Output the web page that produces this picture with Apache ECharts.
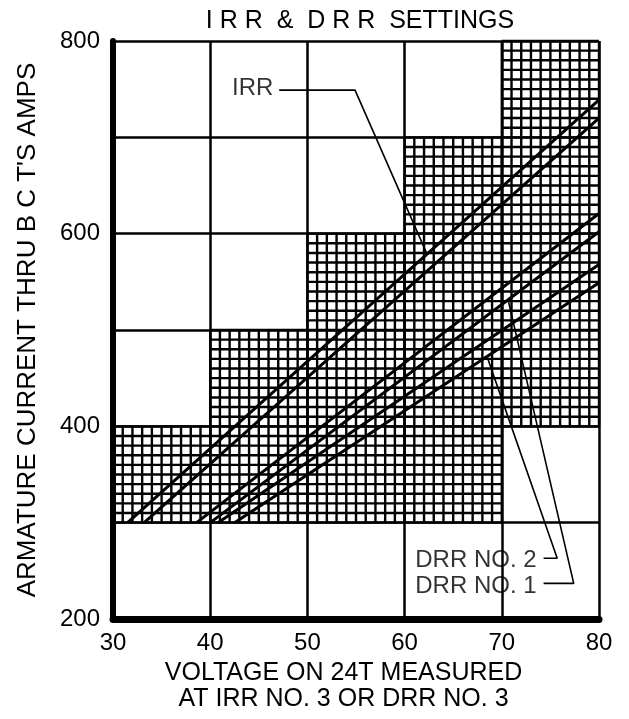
<!DOCTYPE html>
<html>
<head>
<meta charset="utf-8">
<script src="https://cdn.jsdelivr.net/npm/echarts@6/dist/echarts.min.js"></script>
<style>
html,body{margin:0;padding:0;background:#fff;}
#chart{width:629px;height:719px;}
</style>
</head>
<body>
<div id="chart"></div>
<script>
// ---- data ----
const xTicks = [30, 40, 50, 60, 70, 80];
const yTickLabels = [200, 400, 600, 800];

// shaded fine-grid regions: [xFrom, xTo, yFrom, yTo]
const shadedRegions = [
  [30, 40, 300, 400],
  [40, 50, 300, 500],
  [50, 60, 300, 600],
  [60, 70, 300, 700],
  [70, 80, 400, 800]
];

// setting lines (voltage, amps)
const irrUpper  = [[31.5, 300], [80, 739]];
const irrLower  = [[33.2, 300], [80, 720]];
const drr2Upper = [[38.6, 300], [80, 621]];
const drr2Lower = [[40.0, 300], [80, 602]];
const drr1Upper = [[40.8, 300], [80, 568]];
const drr1Lower = [[42.5, 300], [80, 549]];

// leader lines
const irrLeader  = [[47.1, 749], [54.9, 749], [62.3, 579]];
const drr2Leader = [[74.3, 263], [75.7, 263], [68.6, 469]];
const drr1Leader = [[74.3, 237], [77.4, 237], [70.7, 529]];

// annotation labels
const leftLabels  = [[46.5, 751, 'IRR']];
const rightLabels = [[61.1, 261, 'DRR NO. 2'], [61.1, 233.5, 'DRR NO. 1']];

const FINE_X = 1;   // volts per fine division
const FINE_Y = 10;  // amps per fine division

const FONT = "'Liberation Sans', Arial, Helvetica, sans-serif";

const chart = echarts.init(document.getElementById('chart'), null, {renderer: 'canvas'});

function mainLine(data) {
  return {
    type: 'line', data: data, showSymbol: false, symbol: 'none', z: 5,
    lineStyle: {color: '#000', width: 3}, animation: false, silent: true
  };
}
function leader(data) {
  return {
    type: 'line', data: data, showSymbol: false, symbol: 'none', z: 6,
    lineStyle: {color: '#000', width: 1.6}, animation: false, silent: true
  };
}

const option = {
  backgroundColor: '#fff',
  animation: false,
  title: {
    text: 'I R R  &  D R R  SETTINGS',
    left: 355, top: 4, textAlign: 'center',
    textStyle: {fontFamily: FONT, fontSize: 25, fontWeight: 'normal', color: '#000'}
  },
  grid: {left: 113, right: 30, top: 41, bottom: 100, containLabel: false},
  xAxis: {
    type: 'value', min: xTicks[0], max: xTicks[xTicks.length - 1], interval: 10,
    name: 'VOLTAGE ON 24T MEASURED\nAT IRR NO. 3 OR DRR NO. 3',
    nameLocation: 'middle', nameGap: 37,
    nameTextStyle: {fontFamily: FONT, fontSize: 25, color: '#000', lineHeight: 26, padding: [0, 25, 0, 0]},
    axisLine: {show: true, lineStyle: {color: '#000', width: 7}},
    axisTick: {show: false},
    axisLabel: {fontFamily: FONT, fontSize: 24, color: '#000', margin: 12},
    splitLine: {show: true, lineStyle: {color: '#000', width: 2.5}}
  },
  yAxis: {
    type: 'value', min: 200, max: 800, interval: 100,
    name: "ARMATURE CURRENT THRU B C T'S AMPS",
    nameLocation: 'middle', nameGap: 72, nameRotate: 90,
    nameTextStyle: {fontFamily: FONT, fontSize: 26, color: '#000'},
    axisLine: {show: true, lineStyle: {color: '#000', width: 6}},
    axisTick: {show: false},
    axisLabel: {
      fontFamily: FONT, fontSize: 24, color: '#000', margin: 13,
      formatter: function (v) { return yTickLabels.indexOf(v) >= 0 ? String(v) : ''; }
    },
    splitLine: {show: true, lineStyle: {color: '#000', width: 2.5}}
  },
  series: [
    {
      type: 'custom', z: 1, silent: true, animation: false,
      data: shadedRegions,
      encode: {x: [0, 1], y: [2, 3]},
      renderItem: function (params, api) {
        const x0 = api.value(0), x1 = api.value(1), y0 = api.value(2), y1 = api.value(3);
        const children = [];
        const st = {stroke: '#000', lineWidth: 2.4};
        for (let v = x0; v <= x1 + 1e-9; v += FINE_X) {
          const a = api.coord([v, y0]), b = api.coord([v, y1]);
          children.push({type: 'line', shape: {x1: a[0], y1: a[1], x2: b[0], y2: b[1]}, style: st});
        }
        for (let w = y0; w <= y1 + 1e-9; w += FINE_Y) {
          const a = api.coord([x0, w]), b = api.coord([x1, w]);
          children.push({type: 'line', shape: {x1: a[0], y1: a[1], x2: b[0], y2: b[1]}, style: st});
        }
        return {type: 'group', children: children};
      }
    },
    mainLine(irrUpper), mainLine(irrLower),
    mainLine(drr2Upper), mainLine(drr2Lower),
    mainLine(drr1Upper), mainLine(drr1Lower),
    leader(irrLeader), leader(drr2Leader), leader(drr1Leader),
    {
      type: 'scatter', data: leftLabels, symbolSize: 0, z: 7, silent: true,
      label: {show: true, position: 'left', distance: 0, formatter: function (p) { return p.value[2]; },
        fontFamily: FONT, fontSize: 24, color: '#000'}
    },
    {
      type: 'scatter', data: rightLabels, symbolSize: 0, z: 7, silent: true,
      label: {show: true, position: 'right', distance: 0, formatter: function (p) { return p.value[2]; },
        fontFamily: FONT, fontSize: 24, color: '#000'}
    }
  ]
};
chart.setOption(option);
</script>
</body>
</html>
